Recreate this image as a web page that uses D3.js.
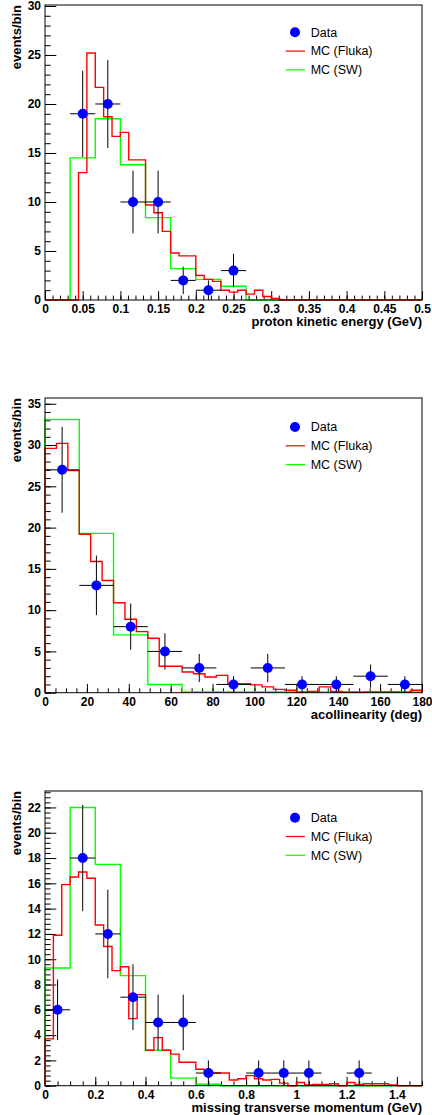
<!DOCTYPE html>
<html>
<head>
<meta charset="utf-8">
<script src="https://cdn.jsdelivr.net/npm/d3@7"></script>
<style>
  body { margin: 0; background: #fff; }
  svg text { font-family: "Liberation Sans", Arial, Helvetica, sans-serif; }
</style>
</head>
<body>
<div id="chart"></div>
<script>
// ---- panel 1: proton kinetic energy ----
const keDataX = [0.05, 0.0833, 0.1167, 0.15, 0.1833, 0.2167, 0.25];
const keDataY = [19, 20, 10, 10, 2, 1, 3];
const keDataErr = [4.4, 4.5, 3.2, 3.2, 1.4, 1.0, 1.7];
const keSW = [0, 14.5, 18.5, 13.8, 8.4, 3.2, 2.1, 1.4, 0, 0, 0, 0, 0, 0, 0];
const keFluka = [0, 0, 0, 0, 13.0, 25.2, 21.7, 18.7, 16.7, 17.1, 14.3, 14.3, 9.7, 8.9, 7.0,
  4.8, 4.5, 4.5, 2.5, 2.1, 1.9, 1.0, 0.8, 1.0, 0.6, 1.0, 0.35, 0.17, 0, 0,
  0, 0, 0, 0, 0, 0, 0, 0, 0, 0, 0, 0, 0, 0, 0];
const keXTicks = [0, 0.05, 0.1, 0.15, 0.2, 0.25, 0.3, 0.35, 0.4, 0.45, 0.5];
const keYTicks = [0, 5, 10, 15, 20, 25, 30];

// ---- panel 2: acollinearity ----
const acDataX = [8.18, 24.55, 40.91, 57.27, 73.64, 90, 106.36, 122.73, 139.09, 155.45, 171.82];
const acDataY = [27, 13, 8, 5, 3, 1, 3, 1, 1, 2, 1];
const acDataErr = [5.2, 3.6, 2.8, 2.2, 1.7, 1.0, 1.7, 1.0, 1.0, 1.4, 1.0];
const acSW = [33.1, 19.3, 7.0, 1.0, 0.1, 0.1, 0.1, 0.1, 0.1, 0.1, 0.1];
const acFluka = [29.6, 30.2, 26.9, 19.2, 15.9, 13.6, 10.9, 8.9, 7.4, 6.6, 3.2,
  3.2, 2.5, 2.3, 1.9, 2.1, 1.1, 1.1, 0.95, 0.7, 0.4, 0.3,
  0.05, 0.15, 0.7, 0.15, 0.05, 0.05, 0.1, 0.1, 0.1, 0.05, 0.3];
const acXTicks = [0, 20, 40, 60, 80, 100, 120, 140, 160, 180];
const acYTicks = [0, 5, 10, 15, 20, 25, 30, 35];

// ---- panel 3: missing transverse momentum ----
const ptDataX = [0.05, 0.15, 0.25, 0.35, 0.45, 0.55, 0.65, 0.85, 0.95, 1.05, 1.25];
const ptDataY = [6, 18, 12, 7, 5, 5, 1, 1, 1, 1, 1];
const ptDataErr = [2.4, 4.2, 3.5, 2.6, 2.2, 2.2, 1.0, 1.0, 1.0, 1.0, 1.0];
const ptSW = [9.3, 22.0, 17.5, 8.7, 2.8, 0.6, 0.12, 0, 0, 0, 0, 0, 0, 0, 0];
const ptFluka = [3.7, 11.9, 15.9, 16.5, 16.9, 16.4, 12.7, 11.0, 9.1, 9.4, 5.3, 7.2, 2.8, 3.8, 2.8,
  2.5, 1.85, 1.85, 1.3, 1.15, 1.0, 1.0, 0.45, 0.55, 0.8, 0.55, 0.45, 0.5, 0.2, 0,
  0.25, 0.05, 0.1, 0.1, 0.15, 0, 0.25, 0.1, 0.15, 0.15, 0.15, 0.05, 0, 0, 0];
const ptXTicks = [0, 0.2, 0.4, 0.6, 0.8, 1, 1.2, 1.4];
const ptYTicks = [0, 2, 4, 6, 8, 10, 12, 14, 16, 18, 20, 22];

const legendLabels = ['Data', 'MC (Fluka)', 'MC (SW)'];

const panels = [
  { xmax: 0.5, ymax: 30.1, dataBins: 15, x: keDataX, y: keDataY, err: keDataErr, sw: keSW, fluka: keFluka,
    xTicks: keXTicks, yTicks: keYTicks, xMinor: 0.01, yMinor: 1, title: 'proton kinetic energy (GeV)',
    top: 5, bottom: 300, legTop: 27.3 },
  { xmax: 180, ymax: 35.7, dataBins: 11, x: acDataX, y: acDataY, err: acDataErr, sw: acSW, fluka: acFluka,
    xTicks: acXTicks, yTicks: acYTicks, xMinor: 5, yMinor: 1, title: 'acollinearity (deg)',
    top: 398, bottom: 692.7, legTop: 29 },
  { xmax: 1.5, ymax: 23.3, dataBins: 15, x: ptDataX, y: ptDataY, err: ptDataErr, sw: ptSW, fluka: ptFluka,
    xTicks: ptXTicks, yTicks: ptYTicks, xMinor: 0.05, yMinor: 0.4, title: 'missing transverse momentum (GeV)',
    top: 791, bottom: 1085.7, legTop: 26.7 }
];

const width = 432, height = 1115;
const left = 45, right = 422;

const svg = d3.select('#chart').append('svg')
  .attr('width', width)
  .attr('height', height);

svg.append('rect').attr('width', width).attr('height', height).attr('fill', '#fff');

// step outline like ROOT's HIST option
function stepPath(values, xmax, x, y) {
  const w = xmax / values.length;
  const p = d3.path();
  p.moveTo(x(0), y(0));
  values.forEach((v, i) => {
    p.lineTo(x(i * w), y(v));
    p.lineTo(x((i + 1) * w), y(v));
  });
  p.lineTo(x(xmax), y(0));
  return p.toString();
}

panels.forEach(pn => {
  const x = d3.scaleLinear().domain([0, pn.xmax]).range([left, right]);
  const y = d3.scaleLinear().domain([0, pn.ymax]).range([pn.bottom, pn.top]);
  const g = svg.append('g');
  const fh = pn.bottom - pn.top;
  const fw = right - left;

  // minor ticks
  const xMinorVals = d3.range(0, pn.xmax + 1e-9, pn.xMinor);
  const yMinorVals = d3.range(0, pn.ymax, pn.yMinor);

  g.append('g')
    .attr('transform', `translate(0,${pn.bottom})`)
    .call(d3.axisBottom(x).tickValues(xMinorVals).tickSize(-fh * 0.015).tickFormat(''))
    .call(s => s.select('.domain').remove());
  g.append('g')
    .attr('transform', `translate(0,${pn.bottom})`)
    .call(d3.axisBottom(x).tickValues(pn.xTicks).tickSize(-fh * 0.03).tickPadding(4.5)
      .tickFormat(d => String(d)))
    .call(s => s.select('.domain').remove())
    .call(s => s.selectAll('text').attr('font-size', 12).attr('font-weight', 'bold').attr('fill', '#000'));

  g.append('g')
    .attr('transform', `translate(${left},0)`)
    .call(d3.axisLeft(y).tickValues(yMinorVals).tickSize(-fw * 0.015).tickFormat(''))
    .call(s => s.select('.domain').remove());
  g.append('g')
    .attr('transform', `translate(${left},0)`)
    .call(d3.axisLeft(y).tickValues(pn.yTicks).tickSize(-fw * 0.03).tickPadding(4)
      .tickFormat(d => String(d)))
    .call(s => s.select('.domain').remove())
    .call(s => s.selectAll('text').attr('font-size', 12).attr('font-weight', 'bold').attr('fill', '#000'));

  g.selectAll('.tick line').attr('stroke', '#000').attr('stroke-width', 1);

  // MC histograms
  g.append('path').attr('d', stepPath(pn.sw, pn.xmax, x, y))
    .attr('fill', 'none').attr('stroke', '#00ff00').attr('stroke-width', 1.4);
  g.append('path').attr('d', stepPath(pn.fluka, pn.xmax, x, y))
    .attr('fill', 'none').attr('stroke', '#ff0000').attr('stroke-width', 1.4);

  // data with error bars
  const half = pn.xmax / pn.dataBins / 2;
  const pts = pn.x.map((xv, i) => ({ x: xv, y: pn.y[i], e: pn.err[i] }));
  const dg = g.append('g');
  dg.selectAll('line.ex').data(pts).enter().append('line')
    .attr('x1', d => x(d.x - half)).attr('x2', d => x(d.x + half))
    .attr('y1', d => y(d.y)).attr('y2', d => y(d.y))
    .attr('stroke', '#000').attr('stroke-width', 1);
  dg.selectAll('line.ey').data(pts).enter().append('line')
    .attr('x1', d => x(d.x)).attr('x2', d => x(d.x))
    .attr('y1', d => y(Math.max(0, d.y - d.e))).attr('y2', d => y(d.y + d.e))
    .attr('stroke', '#000').attr('stroke-width', 1);
  dg.selectAll('circle').data(pts).enter().append('circle')
    .attr('cx', d => x(d.x)).attr('cy', d => y(d.y)).attr('r', 5)
    .attr('fill', '#0000ff');

  // frame
  g.append('rect').attr('x', left).attr('y', pn.top)
    .attr('width', fw).attr('height', fh)
    .attr('fill', 'none').attr('stroke', '#000').attr('stroke-width', 1);

  // axis titles
  g.append('text').attr('x', right).attr('y', pn.bottom + 26)
    .attr('text-anchor', 'end').attr('font-size', 13).attr('font-weight', 'bold')
    .text(pn.title);
  g.append('text').attr('transform', `translate(21,${pn.top}) rotate(-90)`)
    .attr('text-anchor', 'end').attr('font-size', 13).attr('font-weight', 'bold')
    .text('events/bin');

  // legend
  const ly = pn.top + pn.legTop;
  const step = 18.8;
  const lg = g.append('g');
  lg.append('circle').attr('cx', 295).attr('cy', ly).attr('r', 5).attr('fill', '#0000ff');
  lg.append('line').attr('x1', 285.7).attr('x2', 305).attr('y1', ly + step).attr('y2', ly + step)
    .attr('stroke', '#ff0000').attr('stroke-width', 1.2);
  lg.append('line').attr('x1', 285.7).attr('x2', 305).attr('y1', ly + 2 * step).attr('y2', ly + 2 * step)
    .attr('stroke', '#00ff00').attr('stroke-width', 1.2);
  lg.selectAll('text').data(legendLabels).enter().append('text')
    .attr('x', 310.7).attr('y', (d, i) => ly + i * step).attr('dy', '0.35em')
    .attr('font-size', 12.5).text(d => d);
});
</script>
</body>
</html>
